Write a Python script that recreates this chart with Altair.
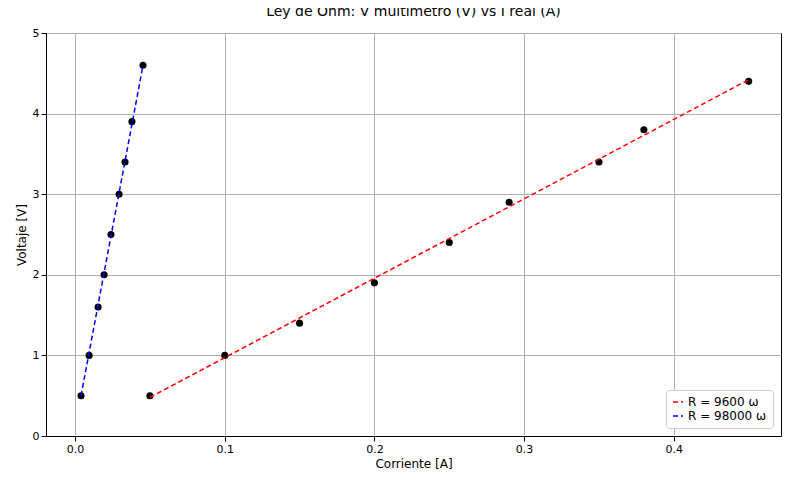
import altair as alt
import pandas as pd

i_low = [0.004, 0.0094, 0.0154, 0.0194, 0.024, 0.0294, 0.0334, 0.038, 0.0454]
v_low = [0.5, 1.0, 1.6, 2.0, 2.5, 3.0, 3.4, 3.9, 4.6]
i_high = [0.05, 0.10, 0.15, 0.20, 0.25, 0.29, 0.35, 0.38, 0.45]
v_high = [0.5, 1.0, 1.4, 1.9, 2.4, 2.9, 3.4, 3.8, 4.4]

fit_labels = ["R = 9600 ω", "R = 98000 ω"]
fit_x = [[0.05, 0.45], [0.004, 0.0454]]
fit_y = [[0.48, 4.42], [0.5, 4.6]]

pts = pd.DataFrame({"I": i_low + i_high, "V": v_low + v_high})
fits = pd.DataFrame([
    {"serie": lab, "I": x, "V": y, "o": k}
    for lab, xs, ys in zip(fit_labels, fit_x, fit_y)
    for k, (x, y) in enumerate(zip(xs, ys))
])

x = alt.X("I:Q", title="Corriente [A]",
          scale=alt.Scale(domain=[-0.0194, 0.4716], nice=False, zero=False),
          axis=alt.Axis(values=[0, 0.1, 0.2, 0.3, 0.4], format=".1f"))
y = alt.Y("V:Q", title="Voltaje [V]",
          scale=alt.Scale(domain=[0, 5], nice=False),
          axis=alt.Axis(values=[0, 1, 2, 3, 4, 5]))

points = alt.Chart(pts).mark_circle(size=50, color="black", opacity=1).encode(x=x, y=y)

lines = alt.Chart(fits).mark_line(strokeDash=[5, 3], strokeWidth=1.5).encode(
    x=x, y=y, order="o:Q",
    color=alt.Color("serie:N", sort=fit_labels,
                    scale=alt.Scale(domain=fit_labels, range=["red", "blue"]),
                    legend=alt.Legend(title=None, orient="bottom-right", symbolType="stroke",
                                      symbolDash=[5, 3], symbolStrokeWidth=1.5,
                                      fillColor="white", strokeColor="#ccc", padding=6,
                                      cornerRadius=3, labelFontSize=12, offset=8)),
)

chart = (
    alt.layer(points, lines)
    .properties(
        width=735, height=403,
        title=alt.Title("Ley de Ohm: V multímetro (V) vs I real (A)", fontSize=14,
                        fontWeight="normal", offset=8),
        padding={"left": 38, "top": 25, "right": 1, "bottom": 40},
        autosize=alt.AutoSizeParams(type="none"),
    )
    .configure_axis(gridColor="#b0b0b0", domainColor="black", tickColor="black",
                    labelColor="black", titleColor="black", labelFontSize=11,
                    titleFontSize=12, titleFontWeight="normal", labelFont="DejaVu Sans",
                    titleFont="DejaVu Sans")
    .configure_title(font="DejaVu Sans")
    .configure_legend(labelFont="DejaVu Sans")
    .configure_view(stroke="black")
)

chart.save("out.html", embed_options={"renderer": "svg", "actions": False})
